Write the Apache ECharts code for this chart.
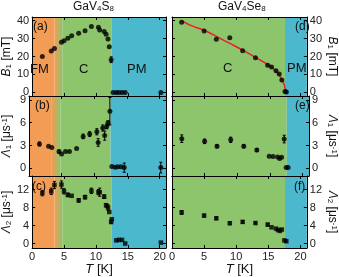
<!DOCTYPE html>
<html><head><meta charset="utf-8">
<script src="https://cdn.jsdelivr.net/npm/echarts@6/dist/echarts.min.js"></script>
<style>html,body{margin:0;padding:0;background:#fff}#c{width:339px;height:277px}</style>
</head><body><div id="c"></div>
<script>
// ---------- DATA ----------
// GaV4S8 (left column)
const S_T = [1.6,3.0,3.5,4.6,5.0,5.6,6.2,7.3,8.3,9.3,10.4,10.6,11.3,11.6,11.9,12.1,12.4];
const S_B1 = [20,23,24.5,28,28.8,30.2,31.6,33,34.4,36.7,36.3,34.8,33.9,32.4,29.8,25.5,18.2];
const S_B1_ERR = [0,0,0,0,0,0,0,0,0,0,0,0,0,0,0,0,1.6];
const S_PM_T = [12.7,13.2,13.6,14.1,14.6,20.2];
const S_PM_B1 = [0,0,0,0,0,0];
const S_L1 = [3.2,2.9,2.75,2.2,1.9,2.2,2.2,2.6,4.2,4.5,4.8,3.4,5.3,4.3,5.5,5.95,7.5];
const S_L1_ERR = [0.25,0,0,0.2,0,0,0,0,0.3,0.3,0.4,0.5,0.4,0.6,0.3,0.3,1.8];
const S_PM_L1 = [0.25,0.15,0.2,0.2,0.1,0.1];
const S_PM_L1_ERR = [0,0,0,0,0.6,0.7];
const S_T2 = [1.6,3.0,3.5,4.6,5.0,5.6,6.2,7.3,8.3,9.3,10.4,10.6,11.3,11.6,11.9,12.1,12.4,12.5];
const S_L2 = [11.2,11.6,13.0,13.1,11.6,10.8,10.6,9.6,10.3,11.7,11.4,11.4,10.4,8.5,8.0,7.0,4.8,5.4];
const S_L2_ERR = [0.6,0.7,0.8,0.8,0.6,0.4,0,0.4,0.4,0.6,0.6,0.9,0.4,0.4,0.6,0,0.4,0];
const S_PM_T2 = [13.2,13.6,14.1,14.6,20.2];
const S_PM_L2 = [0.7,0.8,0.8,0,0.2];
// phase boundaries GaV4S8
const S_FM_END = 3.5, S_C_START = 4.8, S_TC = 12.5;

// GaV4Se8 (right column)
const SE_T = [1.5,5.0,6.9,9.0,11.0,13.0,14.9,15.5,16.2,16.7,17.1,17.6,17.8];
const SE_B1 = [39.1,34.2,29.6,30.5,23.2,19.3,15.1,14.1,12.1,10.2,6.9,0.5,0.2];
const SE_FIT_T = [1.5,3,5,7,9,11,13,14,15,16,16.5,17,17.3,17.5,17.65,17.75];
const SE_FIT_B1 = [40,37.2,34.6,31,27.3,23.6,19.5,17.5,15.3,12.5,10.7,7.8,5.8,4,1.5,0];
const SE_T1 = [1.5,5.0,6.9,9.0,11.0,13.0,14.9,15.5,16.2,16.5,16.8,17.2,17.5,17.8];
const SE_L1 = [3.9,3.55,2.9,3.75,2.9,2.4,1.6,1.55,1.5,1.3,1.45,3.85,0.1,0.1];
const SE_L1_ERR = [0.5,0.3,0.2,0.35,0.2,0.2,0,0,0,0,0,0.5,0,0];
const SE_T2 = [1.5,5.0,6.9,9.0,11.0,13.0,14.9,15.5,16.2,16.5,16.8,17.1,17.5,17.8];
const SE_L2 = [6.9,6.2,5.6,4.5,4.8,4.55,4.2,3.6,3.3,3.0,2.8,3.1,0.7,0.5];
const SE_L2_ERR = [0.4,0.3,0.3,0.3,0.3,0.2,0.3,0,0,0,0,0,0,0];
const SE_TC = 17.6;

// axes ticks
const X_TICKS = [0,5,10,15,20];
const Y_TICKS = [[0,10,20,30,40],[0,3,6,9],[0,4,8,12]];
const Y_RANGE = [[-2,42],[-1,9.5],[-1,15]];
const X_RANGE = [0,21];

// ---------- STYLE ----------
const ORANGE='#F29C55', GREEN='#8CC56C', CYAN='#4BB8CD';
const FONT='Liberation Sans';
const chart = echarts.init(document.getElementById('c'));

const GRIDS = [
  {left:27, top:17, width:139, height:79},
  {left:172, top:17, width:138, height:79},
  {left:27, top:96, width:139, height:80},
  {left:172, top:96, width:138, height:80},
  {left:27, top:176, width:139, height:78},
  {left:172, top:176, width:138, height:78}
];
const YNAMES = [
  '{i|B}{s|1} [mT]',
  '{i|Λ}{s|1} [μs{p|-1}]',
  '{i|Λ}{s|2} [μs{p|-1}]'
];
const nameRich = {
  i:{fontStyle:'italic',fontSize:12,fontFamily:FONT,color:'#111'},
  s:{fontSize:8,fontFamily:FONT,color:'#111',verticalAlign:'bottom'},
  p:{fontSize:8,fontFamily:FONT,color:'#111',verticalAlign:'top'}
};
const xAxes=[], yAxes=[];
GRIDS.forEach((g,i)=>{
  const row=Math.floor(i/2), col=i%2;
  const common = {gridIndex:i, type:'value', min:X_RANGE[0], max:X_RANGE[1], z:10,
    axisLine:{show:true,onZero:false,lineStyle:{color:'#000',width:1}},
    splitLine:{show:false}};
  xAxes.push(Object.assign({}, common, {position:'bottom',
    axisTick:{show:true,inside:true,length:3,customValues:X_TICKS,lineStyle:{color:'#000'}},
    axisLabel:{show:row===2,customValues:X_TICKS,fontSize:11,fontFamily:FONT,color:'#222',margin:3},
    name: row===2 ? '{i|T} [K]' : '', nameLocation:'middle', nameGap:15,
    nameTextStyle:{fontSize:13,fontFamily:FONT,color:'#111',rich:{i:{fontStyle:'italic',fontSize:13,fontFamily:FONT,color:'#111'}}}
  }));
  xAxes.push(Object.assign({}, common, {position:'top',
    axisTick:{show:true,inside:true,length:3,customValues:X_TICKS,lineStyle:{color:'#000'}},
    axisLabel:{show:false}}));
  const yc = {gridIndex:i, type:'value', min:Y_RANGE[row][0], max:Y_RANGE[row][1], z:10,
    axisLine:{show:true,onZero:false,lineStyle:{color:'#000',width:1}},
    splitLine:{show:false}};
  yAxes.push(Object.assign({}, yc, {position: col===0?'left':'right',
    axisTick:{show:true,inside:true,length:3,customValues:Y_TICKS[row],lineStyle:{color:'#000'}},
    axisLabel:{show:true,customValues:Y_TICKS[row],fontSize:11,fontFamily:FONT,color:'#222',margin:3},
    name: YNAMES[row], nameLocation:'middle', nameGap: col===0?16:17, nameRotate: col===0?90:-90,
    nameTextStyle:{fontSize:12,fontFamily:FONT,color:'#111',rich:nameRich}
  }));
  yAxes.push(Object.assign({}, yc, {position: col===0?'right':'left',
    axisTick:{show:true,inside:true,length:3,customValues:Y_TICKS[row],lineStyle:{color:'#000'}},
    axisLabel:{show:false}}));
});

function zip(xs, ys){ return xs.map((x,k)=>[x, ys[k]]); }
function zip3(xs, ys, es){ return xs.map((x,k)=>[x, ys[k], es[k]]); }

function bgSeries(i, col){
  let areas;
  if(col===0){
    areas = [
      [{xAxis:X_RANGE[0], itemStyle:{color:ORANGE}},{xAxis:S_FM_END}],
      [{xAxis:S_FM_END, itemStyle:{color:new echarts.graphic.LinearGradient(0,0,1,0,[{offset:0,color:ORANGE},{offset:1,color:GREEN}])}},{xAxis:S_C_START}],
      [{xAxis:S_C_START, itemStyle:{color:GREEN}},{xAxis:S_TC}],
      [{xAxis:S_TC, itemStyle:{color:CYAN}},{xAxis:X_RANGE[1]}]
    ];
  } else {
    areas = [
      [{xAxis:X_RANGE[0], itemStyle:{color:GREEN}},{xAxis:SE_TC}],
      [{xAxis:SE_TC, itemStyle:{color:CYAN}},{xAxis:X_RANGE[1]}]
    ];
  }
  return {type:'line', xAxisIndex:2*i, yAxisIndex:2*i, data:[], z:1, silent:true,
    markArea:{silent:true, itemStyle:{opacity:1, borderWidth:0}, data:areas}};
}
function scatter(i, data, sym){
  return {type:'scatter', xAxisIndex:2*i, yAxisIndex:2*i, data:data, z:5,
    symbol: sym||'circle', symbolSize: sym==='rect'?4.5:5, itemStyle:{color:'#000'}, silent:true};
}
function errSeries(i, data){
  return {type:'custom', xAxisIndex:2*i, yAxisIndex:2*i, data:data, z:4, silent:true,
    renderItem:function(params, api){
      const x=api.value(0), y=api.value(1), e=api.value(2);
      if(!e) return null;
      const p1=api.coord([x,y+e]), p2=api.coord([x,y-e]);
      return {type:'group', children:[
        {type:'line', shape:{x1:p1[0],y1:p1[1],x2:p2[0],y2:p2[1]}, style:{stroke:'#000',lineWidth:1}},
        {type:'line', shape:{x1:p1[0]-1.5,y1:p1[1],x2:p1[0]+1.5,y2:p1[1]}, style:{stroke:'#000',lineWidth:1}},
        {type:'line', shape:{x1:p2[0]-1.5,y1:p2[1],x2:p2[0]+1.5,y2:p2[1]}, style:{stroke:'#000',lineWidth:1}}
      ]};
    }};
}

const series = [];
for(let i=0;i<6;i++) series.push(bgSeries(i, i%2));
series.push(scatter(0, zip(S_T,S_B1)));
series.push(scatter(0, zip(S_PM_T,S_PM_B1)));
series.push(errSeries(0, zip3(S_T,S_B1,S_B1_ERR)));
series.push({type:'line', xAxisIndex:2, yAxisIndex:2, data:zip(SE_FIT_T,SE_FIT_B1), smooth:0.3, showSymbol:false, z:3,
  lineStyle:{color:'#E8202A',width:1.5}, silent:true});
series.push(scatter(1, zip(SE_T,SE_B1)));
series.push(scatter(2, zip(S_T,S_L1)));
series.push(scatter(2, zip(S_PM_T,S_PM_L1)));
series.push(errSeries(2, zip3(S_T,S_L1,S_L1_ERR)));
series.push(errSeries(2, zip3(S_PM_T,S_PM_L1,S_PM_L1_ERR)));
series.push(scatter(3, zip(SE_T1,SE_L1)));
series.push(errSeries(3, zip3(SE_T1,SE_L1,SE_L1_ERR)));
series.push(scatter(4, zip(S_T2,S_L2),'rect'));
series.push(scatter(4, zip(S_PM_T2,S_PM_L2),'rect'));
series.push(errSeries(4, zip3(S_T2,S_L2,S_L2_ERR)));
series.push(scatter(5, zip(SE_T2,SE_L2),'rect'));
series.push(errSeries(5, zip3(SE_T2,SE_L2,SE_L2_ERR)));

// text measurement for centring
const mctx = document.createElement('canvas').getContext('2d');
function tw(t, size){ mctx.font = size+'px "'+FONT+'"'; return mctx.measureText(t).width; }
function txt(cx,cy,t,size){
  return {type:'text', x:Math.round(cx - tw(t,size)/2), y:cy, z:100, silent:true,
    style:{text:t, font: size+'px "'+FONT+'"', fill:'#111', align:'left', verticalAlign:'middle'}};
}
function title(cx, cy, parts){
  // parts: [text, isSub]
  let w=0; parts.forEach(p=>{ w += tw(p[0], p[1]?8:12); });
  const rt = parts.map(p=> p[1] ? '{s|'+p[0]+'}' : '{n|'+p[0]+'}').join('');
  return {type:'text', x:Math.round(cx - w/2), y:cy, z:100, silent:true,
    style:{text:rt, font:'12px "'+FONT+'"', fill:'#111', align:'left', verticalAlign:'middle',
      rich:{n:{fontSize:12,fontFamily:FONT,fill:'#111'}, s:{fontSize:8,fontFamily:FONT,fill:'#111',verticalAlign:'bottom'}}}};
}
const graphics = [
  title(93, 7, [['GaV',0],['4',1],['S',0],['8',1]]),
  title(242, 7, [['GaV',0],['4',1],['Se',0],['8',1]]),
  txt(39,69,'FM',13), txt(84,69,'C',13), txt(137,69,'PM',13),
  txt(228,68,'C',13), txt(297,68,'PM',13),
  txt(40,27,'(a)',12), txt(42,106,'(b)',12), txt(39,187,'(c)',12),
  txt(302,27,'(d)',12), txt(302,106,'(e)',12), txt(300,187,'(f)',12)
];

chart.setOption({
  animation:false,
  backgroundColor:'#fff',
  grid: GRIDS.map(g=>Object.assign({containLabel:false}, g)),
  xAxis: xAxes,
  yAxis: yAxes,
  series: series,
  graphic: graphics
});
</script></body></html>
